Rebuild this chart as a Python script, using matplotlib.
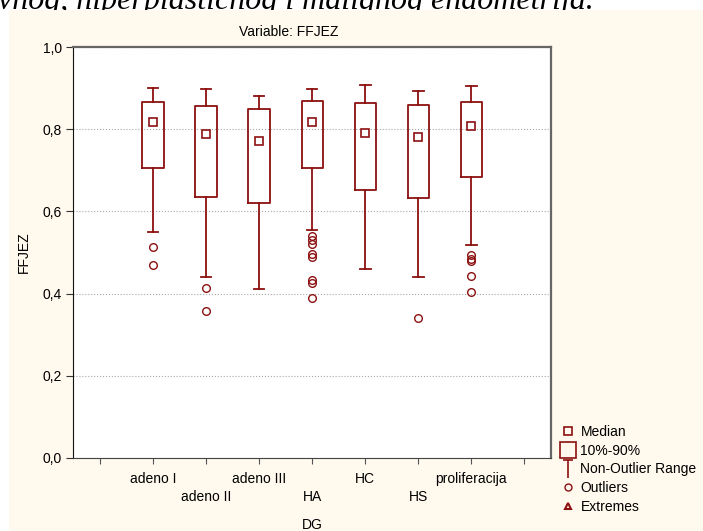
import numpy as np
import matplotlib
matplotlib.use('Agg')
import matplotlib.pyplot as plt
from matplotlib.patches import Rectangle
from matplotlib.lines import Line2D
from matplotlib.path import Path

plt.rcParams['font.family'] = ['Liberation Sans', 'DejaVu Sans']

# Data (FFJEZ by DG)

groups = ['adeno I', 'adeno II', 'adeno III', 'HA', 'HC', 'HS', 'proliferacija']
medians = [0.819, 0.789, 0.772, 0.819, 0.792, 0.781, 0.808]
p10 = [0.707, 0.636, 0.621, 0.705, 0.653, 0.634, 0.684]
p90 = [0.867, 0.857, 0.850, 0.869, 0.864, 0.860, 0.867]
range_lo = [0.549, 0.440, 0.412, 0.554, 0.461, 0.441, 0.519]
range_hi = [0.902, 0.899, 0.882, 0.898, 0.908, 0.894, 0.906]
outliers = [
    [0.514, 0.470],
    [0.413, 0.357],
    [],
    [0.541, 0.530, 0.521, 0.496, 0.488, 0.434, 0.425, 0.388],
    [],
    [0.340],
    [0.493, 0.485, 0.479, 0.443, 0.404],
]
y_ticks = [0.0, 0.2, 0.4, 0.6, 0.8, 1.0]
legend_labels = ['Median', '10%-90%', 'Non-Outlier Range', 'Outliers', 'Extremes']

# Styling

red = '#8c1010'
cream = '#fff9ee'
W, H = 703, 531

fig = plt.figure(figsize=(W / 100, H / 100), dpi=100, facecolor='white')

# page text peeking above the chart
fig.text(-2 / W, 1 - 9 / H, 'vnog, hiperplastičnog i malignog endometrija.',
         family='Liberation Serif', style='italic', fontsize=23,
         ha='left', va='baseline', zorder=-2)
fig.add_artist(Rectangle((9 / W, 0), 1, 1 - 10 / H, transform=fig.transFigure,
                         facecolor=cream, edgecolor='none', zorder=-1))

ax = fig.add_axes([73.3 / W, 1 - 457.7 / H, (551 - 73.3) / W, (457.7 - 47.3) / H])
ax.set_facecolor('white')

positions = np.arange(1, len(groups) + 1)
stats = []
for g, m, a, b, lo, hi, f in zip(groups, medians, p10, p90, range_lo, range_hi, outliers):
    stats.append(dict(label=g, med=m, q1=a, q3=b, whislo=lo, whishi=hi, fliers=f))

ax.bxp(stats, positions=positions, widths=0.4, capwidths=0.2, manage_ticks=False,
       boxprops=dict(color=red, lw=1.3),
       whiskerprops=dict(color=red, lw=1.3),
       capprops=dict(color=red, lw=1.3),
       medianprops=dict(visible=False),
       flierprops=dict(marker='o', markerfacecolor='none', markeredgecolor=red,
                       markersize=5.5, markeredgewidth=1.0))
ax.plot(positions, medians, 's', ls='none', ms=6, mfc='white', mec=red, mew=1.2, zorder=4)

ax.set_xlim(-0.5, 8.5)
ax.set_ylim(0, 1)

# one tick per category plus an empty one at each end, labels staggered
xt = np.arange(len(groups) + 2)
xlabels = [''] + [g if i % 2 == 0 else '\n' + g for i, g in enumerate(groups)] + ['']
ax.set_xticks(xt)
ax.set_xticklabels(xlabels, fontsize=10, linespacing=1.4)
ax.set_yticks(y_ticks)
ax.set_yticklabels([f'{v:.1f}'.replace('.', ',') for v in y_ticks], fontsize=10)
ax.tick_params(axis='x', direction='out', length=4, color='#555555', pad=6)
ax.tick_params(axis='y', direction='out', length=5, color='#333333', pad=3)

ax.yaxis.grid(True, linestyle=':', color='#a8a8a8', lw=0.8)
ax.set_axisbelow(True)

ax.spines['left'].set_color('#111111')
ax.spines['bottom'].set_color('#444444')
for s in ['top', 'right']:
    ax.spines[s].set_color('#666666')
    ax.spines[s].set_linewidth(1.6)

ax.set_ylabel('FFJEZ', fontsize=10)
ax.yaxis.set_label_coords(-0.088, 0.5)
ax.set_xlabel('DG', fontsize=10)
ax.xaxis.set_label_coords(0.5, -0.147)
ax.xaxis.label.set_va('top')

fig.text(289 / W, 1 - 32 / H, 'Variable: FFJEZ', ha='center', va='center', fontsize=10)

# legend
tee = Path([(-0.5, 1), (0.5, 1), (0, 1), (0, -1)],
           [Path.MOVETO, Path.LINETO, Path.MOVETO, Path.LINETO])
handles = [
    Line2D([], [], ls='none', marker='s', ms=5.5, mfc='none', mec=red, mew=1.2),
    Line2D([], [], ls='none', marker='s', ms=11, mfc='none', mec=red, mew=1.2),
    Line2D([], [], ls='none', marker=tee, ms=13, mfc='none', mec=red, mew=1.2),
    Line2D([], [], ls='none', marker='o', ms=5, mfc='none', mec=red, mew=1.0),
    Line2D([], [], ls='none', marker='^', ms=5, mfc='none', mec=red, mew=1.5),
]
fig.legend(handles, legend_labels, loc='upper left', bbox_to_anchor=(561 / W, 1 - 425 / H),
           frameon=False, fontsize=10, handlelength=1.0, handletextpad=0.4,
           labelspacing=0.34, borderpad=0, borderaxespad=0)

fig.savefig('out.png', dpi=100, facecolor='white')
